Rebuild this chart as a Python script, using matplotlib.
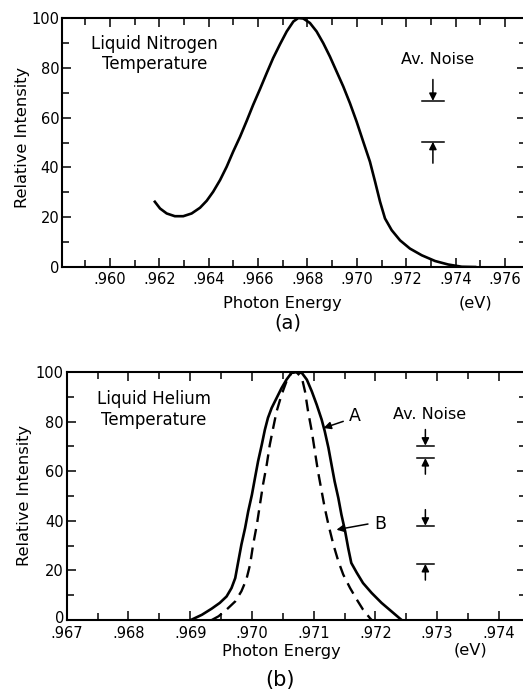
import numpy as np
import matplotlib
matplotlib.use("Agg")
import matplotlib.pyplot as plt
import matplotlib.transforms as mtrans
from matplotlib.ticker import MultipleLocator, FuncFormatter

# (a) liquid nitrogen temperature
energy_n2 = [.96182, .96203, .96230, .96263, .96297, .96331, .96365, .96392,
             .96418, .96446, .96473, .96499, .96527, .96554, .96580, .96608,
             .96635, .96661, .96689, .96716, .96743, .96763, .96783, .96810,
             .96837, .96864, .96891, .96918, .96945, .96972, .96999, .97026,
             .97053, .97074, .97094, .97114, .97141, .97175, .97215, .97263,
             .97317, .97370, .97425, .97479]
intensity_n2 = [26.2, 23.5, 21.5, 20.4, 20.4, 21.5, 23.8, 26.6,
                30.2, 34.9, 40.3, 46.3, 52.3, 58.7, 65.1, 71.5,
                77.9, 83.9, 89.5, 94.6, 98.6, 100.0, 99.8, 98.0,
                94.6, 89.9, 84.5, 78.5, 72.5, 65.8, 58.4, 50.3,
                42.3, 34.2, 26.2, 19.5, 14.8, 10.7, 7.4, 4.7,
                2.4, 1.0, 0.1, 0.0]

# (b) liquid helium temperature, curve A (solid)
energy_a = [.96902, .96919, .96935, .96948, .96959, .96967, .96973, .96978,
            .96983, .96989, .96994, .97000, .97005, .97010, .97016, .97021,
            .97026, .97032, .97040, .97048, .97056, .97064, .97070, .97081,
            .97089, .97097, .97105, .97113, .97118, .97124, .97129, .97134,
            .97140, .97145, .97151, .97156, .97161, .97170, .97180, .97194,
            .97210, .97226, .97242]
intensity_a = [0.1, 2.1, 4.6, 6.9, 9.5, 12.9, 16.9, 23.7,
               30.4, 37.1, 43.8, 50.5, 57.3, 64.0, 70.7, 76.7,
               81.5, 85.5, 89.5, 93.5, 96.9, 99.6, 100.0, 99.6,
               96.9, 92.2, 86.8, 80.8, 76.1, 69.4, 62.6, 55.9,
               49.2, 42.5, 35.8, 29.0, 23.0, 19.0, 14.9, 10.9,
               6.9, 3.5, 0.1]

# curve B (dashed)
energy_b = [.96935, .96946, .96959, .96973, .96983, .96991, .96997, .97002,
            .97008, .97013, .97018, .97024, .97029, .97035, .97040, .97048,
            .97056, .97064, .97072, .97081, .97086, .97091, .97097, .97102,
            .97107, .97113, .97118, .97124, .97132, .97140, .97148, .97159,
            .97170, .97180, .97191, .97194]
intensity_b = [0.0, 1.5, 4.2, 7.5, 11.6, 16.3, 22.3, 30.4,
               38.4, 46.5, 54.6, 62.6, 70.7, 78.1, 84.1, 90.8,
               96.2, 99.6, 100.0, 97.6, 92.2, 84.1, 76.1, 68.0,
               60.0, 51.9, 45.2, 38.4, 30.4, 23.7, 18.3, 12.9,
               8.2, 4.2, 0.8, 0.0]

# average noise markers: (upper line, lower line) pairs
noise_n2_x = .97308
noise_n2 = [(66.7, 50.3)]
noise_he_x = .97281
noise_he = [(70.3, 65.3), (38.0, 22.6)]

W, H = 523, 690
fig = plt.figure(figsize=(W / 100, H / 100), dpi=100)
fig.patch.set_facecolor("white")
plt.rcParams["font.family"] = ["DejaVu Sans"]


def fmt(v, pos):
    return ("%.3f" % v)[1:]


def setup(ax, xlim, xmajor, xminor):
    ax.set_xlim(*xlim)
    ax.set_ylim(0, 100)
    ax.xaxis.set_major_locator(MultipleLocator(xmajor))
    ax.xaxis.set_minor_locator(MultipleLocator(xminor))
    ax.yaxis.set_major_locator(MultipleLocator(20))
    ax.yaxis.set_minor_locator(MultipleLocator(10))
    ax.xaxis.set_major_formatter(FuncFormatter(fmt))
    ax.tick_params(which="both", direction="in", top=True, right=True,
                   width=1.1, labelsize=10.5)
    ax.tick_params(which="major", length=6.5)
    ax.tick_params(which="minor", length=5)
    ax.tick_params(axis="y", pad=2)
    for s in ax.spines.values():
        s.set_linewidth(1.5)


def arrow(ax, tip, tail):
    ax.annotate("", xy=tip, xytext=tail,
                arrowprops=dict(arrowstyle="-|>", color="k", lw=1.1,
                                mutation_scale=11, shrinkA=0, shrinkB=0))


def noise_bars(ax, x, pairs, half, arrow_len):
    for up, low in pairs:
        ax.plot([x - half, x + half], [up, up], color="k", lw=1.1)
        ax.plot([x - half, x + half], [low, low], color="k", lw=1.1)
        arrow(ax, (x, up), (x, up + arrow_len))
        arrow(ax, (x, low), (x, low - arrow_len))


# ---- panel (a)
l1, r1 = 62 / W, 526 / W
ax1 = fig.add_axes([l1, 1 - 267 / H, r1 - l1, (267 - 18) / H])
setup(ax1, (.95806, .97685), .002, .001)
ax1.plot(energy_n2, intensity_n2, color="k", lw=1.9)
ax1.text(.96182, 89.4, "Liquid Nitrogen", ha="center", va="center", fontsize=12)
ax1.text(.96182, 81.4, "Temperature", ha="center", va="center", fontsize=12)
ax1.text(.97327, 83.5, "Av. Noise", ha="center", va="center", fontsize=11.5)
noise_bars(ax1, noise_n2_x, noise_n2, .00045, 8.6)
ax1.text(-0.086, 0.522, "Relative Intensity", transform=ax1.transAxes,
         rotation=90, ha="center", va="center", fontsize=11.7)
ax1.text(0.474, -0.145, "Photon Energy", transform=ax1.transAxes,
         ha="center", va="center", fontsize=11.7)
ax1.text(0.89, -0.145, "(eV)", transform=ax1.transAxes,
         ha="center", va="center", fontsize=11.7)
ax1.text(0.487, -0.225, "(a)", transform=ax1.transAxes,
         ha="center", va="center", fontsize=14)

# ---- panel (b)
l2 = 66.7 / W
ax2 = fig.add_axes([l2, 1 - 620 / H, r1 - l2, (620 - 372) / H])
setup(ax2, (.967, .97444), .001, .0005)
ax2.tick_params(axis="x", pad=4.5)
ax2.plot(energy_a, intensity_a, color="k", lw=1.9)
ax2.plot(energy_b, intensity_b, color="k", lw=1.7, ls=(0, (5, 3)))
ax2.text(.96841, 89.0, "Liquid Helium", ha="center", va="center", fontsize=12)
ax2.text(.96841, 80.5, "Temperature", ha="center", va="center", fontsize=12)
ax2.text(.97287, 82.7, "Av. Noise", ha="center", va="center", fontsize=11.5)
noise_bars(ax2, noise_he_x, noise_he, .000135, 6.5)

arrow(ax2, (.97116, 77.4), (.97148, 80.1))
ax2.text(.97166, 82.1, "A", ha="center", va="center", fontsize=12.5)
arrow(ax2, (.97137, 36.4), (.97188, 38.7))
ax2.text(.97208, 38.7, "B", ha="center", va="center", fontsize=12.5)

ax2.text(-0.0915, 0.504, "Relative Intensity", transform=ax2.transAxes,
         rotation=90, ha="center", va="center", fontsize=11.7)
ax2.text(0.468, -0.129, "Photon Energy", transform=ax2.transAxes,
         ha="center", va="center", fontsize=11.7)
ax2.text(0.878, -0.121, "(eV)", transform=ax2.transAxes,
         ha="center", va="center", fontsize=11.7)
ax2.text(0.464, -0.242, "(b)", transform=ax2.transAxes,
         ha="center", va="center", fontsize=15)

# lift the "0" label of panel (b) a little, as in the original
fig.canvas.draw()
for t in ax2.yaxis.get_major_ticks():
    if abs(t.get_loc()) < 1e-9:
        t.label1.set_transform(t.label1.get_transform() +
                               mtrans.ScaledTranslation(0, 0.03, fig.dpi_scale_trans))

fig.savefig("out.png", dpi=100, facecolor="white")
